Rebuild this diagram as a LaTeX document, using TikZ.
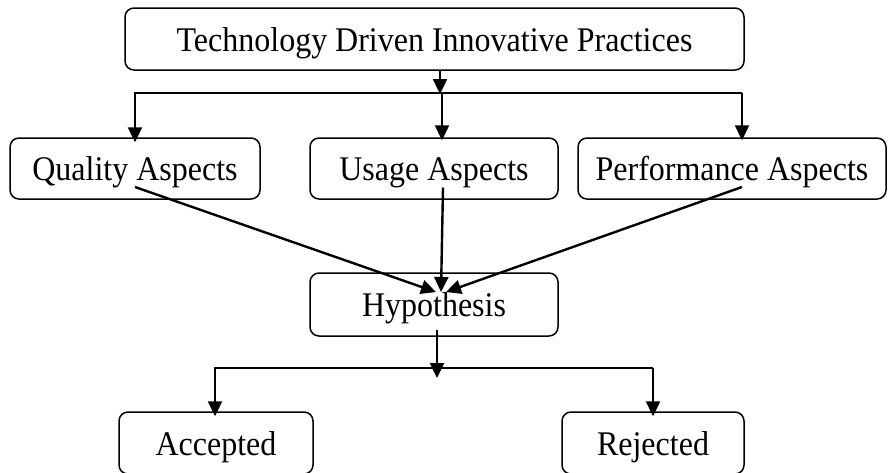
\documentclass[tikz,border=0pt]{standalone}
\usepackage{fontspec}
\setmainfont{Liberation Serif}
\usetikzlibrary{arrows.meta,positioning}
\newcommand{\tall}[1]{\scalebox{1}[1.08]{#1}}

\begin{document}
\begin{tikzpicture}[x=1pt,y=-1pt,
  blk/.style={draw,rounded corners=9pt,line width=1.5pt,minimum height=61pt,inner sep=0pt,text height=28pt,text depth=4pt,font=\fontsize{32}{38}\selectfont},
  arr/.style={line width=2.4pt,-{Triangle[length=15pt,width=14pt]}}]
\useasboundingbox (0,0) rectangle (890,472);
\node[blk,minimum width=619pt,minimum height=62pt] (tech) at (434.5,39) {\tall{Technology Driven Innovative Practices}};
\node[blk,minimum width=250pt] (qual) at (135,168.5) {\tall{Quality Aspects}};
\node[blk,minimum width=248pt] (usage) at (434,168.5) {\tall{Usage Aspects}};
\node[blk,minimum width=308pt] (perf) at (732,168.5) {\tall{Performance Aspects}};
\node[blk,minimum width=248pt,minimum height=63pt] (hyp) at (434,304.5) {\tall{Hypothesis}};
\node[blk,minimum width=194pt,minimum height=62pt] (acc) at (216,443) {\tall{Accepted}};
\node[blk,minimum width=182pt,minimum height=62pt] (rej) at (653,443) {\tall{Rejected}};

% branch points
\coordinate (t1) at (440,94);
\coordinate (b1) at (135,93);
\coordinate (b2) at (442,93);
\coordinate (b3) at (742,93);
\coordinate (h) at (441,292);
\coordinate (s1) at (437,378);
\coordinate (c1) at (215,368);
\coordinate (c2) at (653,368);

\draw[arr] (t1 |- tech.south) -- (t1);
\draw[arr] (b3) -- (b1) -- ([yshift=-5pt]b1 |- qual.north);
\draw[arr] (b2) -- ([yshift=-3pt]b2 |- usage.north);
\draw[arr] (b3) -- ([yshift=-3pt]b3 |- perf.north);

\draw[arr] ([yshift=-18.5pt]qual.center) -- ([xshift=-5pt]h);
\draw[arr] ([xshift=9pt,yshift=-19pt]usage.center) -- (h);
\draw[arr] ([xshift=10pt,yshift=-18.5pt]perf.center) -- ([xshift=5pt]h);

\draw[arr] ([xshift=3pt,yshift=-25pt]hyp.center) -- (s1);
\draw[arr] (c2) -- (c1) -- ([yshift=-5pt]c1 |- acc.north);
\draw[arr] (c2) -- ([yshift=-5pt]c2 |- rej.north);
\end{tikzpicture}
\end{document}
